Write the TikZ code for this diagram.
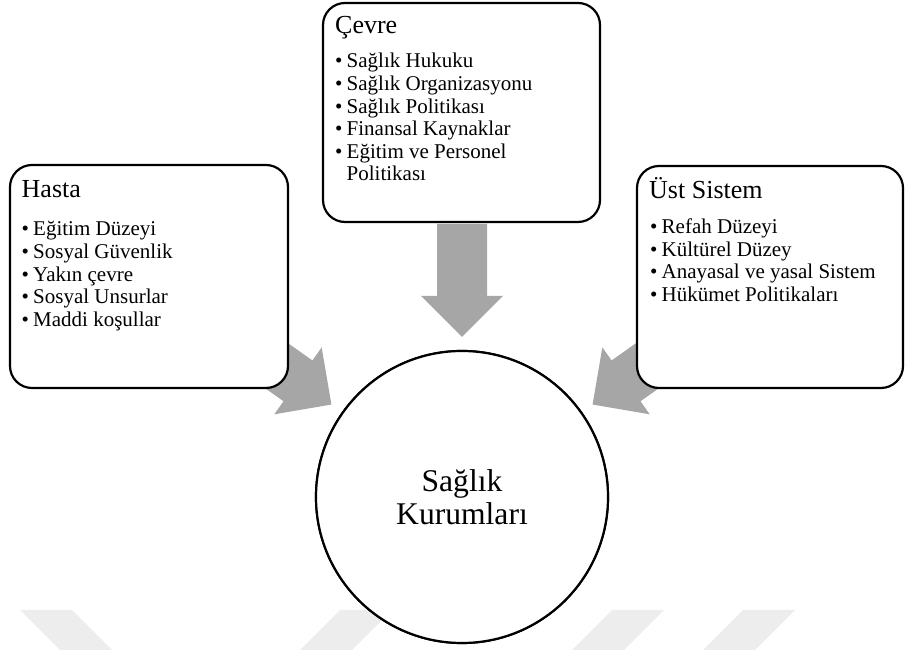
\documentclass[tikz,border=0pt]{standalone}
\usepackage{fontspec}
\setmainfont{Liberation Serif}
\definecolor{arrowgrey}{RGB}{166,166,166}
\definecolor{markgrey}{RGB}{237,237,237}
\tikzset{
  panel/.style={draw=black, line width=2.2pt, fill=white, rounded corners=22pt,
                rectangle, inner sep=0pt},
  hubnode/.style={draw=black, line width=2.2pt, fill=white, circle, inner sep=0pt,
                  minimum size=292pt, align=center,
                  font=\fontsize{31.6}{33}\selectfont},
  paneltitle/.style={anchor=base west, inner sep=0pt, font=\fontsize{26}{28}\selectfont},
  panellist/.style={anchor=base west, inner sep=0pt, font=\fontsize{21}{22.6}\selectfont},
  blockarrow/.style={fill=arrowgrey},
  stripe/.style={fill=markgrey}
}
% bulleted list item with a fixed bullet column
\newcommand{\itm}[1]{\makebox[11.5pt][l]{\textbullet}#1}
\begin{document}
\begin{tikzpicture}[x=1pt, y=1pt]
  \useasboundingbox (0,0) rectangle (905,650);

  % faint stripes along the bottom edge
  \fill[stripe] (20,40) -- (72,40) -- (112,0) -- (60,0) -- cycle;
  \fill[stripe] (340,40) -- (392,40) -- (352,0) -- (300,0) -- cycle;
  \fill[stripe] (612,40) -- (664,40) -- (624,0) -- (572,0) -- cycle;
  \fill[stripe] (743,40) -- (795,40) -- (755,0) -- (703,0) -- cycle;

  % central circle (placed first so the arrows can aim at it)
  \node[hubnode] (hub) at (462,153) {};

  % block arrows pointing at the circle centre
  \foreach \ang in {90, 144.7, 35.3} {
    \fill[blockarrow, shift={(hub.center)}, rotate=\ang]
      (160,0) -- (201,41) -- (201,25) -- (273,25) -- (273,-25)
      -- (201,-25) -- (201,-41) -- cycle;
  }

  % the three panels
  \node[panel, minimum width=278pt, minimum height=223pt] (hasta) at (149,373.5) {};
  \node[panel, minimum width=277pt, minimum height=219pt] (cevre) at (461.5,537.5) {};
  \node[panel, minimum width=266pt, minimum height=222pt] (ust)   at (770,373) {};

  % circle redrawn on top with its label
  \node[hubnode] (hubtext) at (hub.center) {Sağlık\\Kurumları};

  % panel texts
  \node[paneltitle] (hasta-title) at (21.5,452.5) {Hasta};
  \node[panellist]  (hasta-list)  at (21.5,414) {\parbox[t]{250pt}{%
      \itm{Eğitim Düzeyi}\\
      \itm{Sosyal Güvenlik}\\
      \itm{Yakın çevre}\\
      \itm{Sosyal Unsurlar}\\
      \itm{Maddi koşullar}}};

  \node[paneltitle] (cevre-title) at (335,616.5) {Çevre};
  \node[panellist]  (cevre-list)  at (335,582) {\parbox[t]{250pt}{%
      \itm{Sağlık Hukuku}\\
      \itm{Sağlık Organizasyonu}\\
      \itm{Sağlık Politikası}\\
      \itm{Finansal Kaynaklar}\\
      \itm{Eğitim ve Personel}\\
      \hspace*{11.5pt}Politikası}};

  \node[paneltitle] (ust-title) at (649,451.5) {Üst Sistem};
  \node[panellist]  (ust-list)  at (650,416.5) {\parbox[t]{250pt}{%
      \itm{Refah Düzeyi}\\
      \itm{Kültürel Düzey}\\
      \itm{Anayasal ve yasal Sistem}\\
      \itm{Hükümet Politikaları}}};
\end{tikzpicture}
\end{document}
